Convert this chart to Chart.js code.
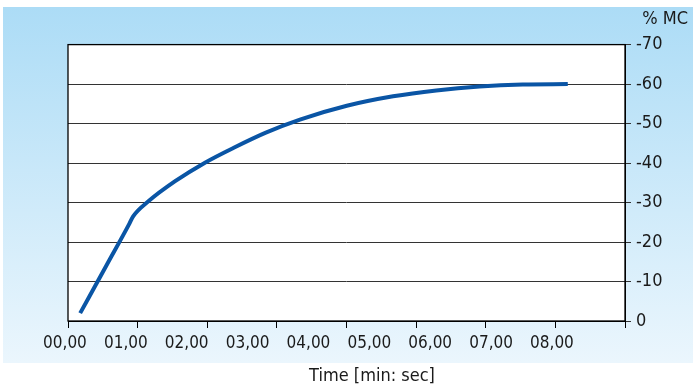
<!DOCTYPE html>
<html>
<head>
<meta charset="utf-8">
<title>Moisture curve</title>
<script src="https://cdn.jsdelivr.net/npm/chart.js@4.4.1/dist/chart.umd.min.js"></script>
<style>
    html, body { margin: 0; padding: 0; background: #fff; }
    canvas { display: block; }
</style>
</head>
<body>
<canvas id="myChart" width="693" height="385"></canvas>
<script>
// time in minutes (read against the x labels), moisture content in %
const timeMin = [0.25, 0.69, 1.05, 1.12, 1.37, 1.81, 2.30, 2.79, 3.30, 3.86, 4.63, 5.39, 6.10, 6.81, 7.52, 8.26];
const moisture = [-2.0, -14.3, -24.4, -26.5, -30.3, -35.4, -40.1, -44.0, -47.7, -51.0, -54.5, -56.9, -58.4, -59.4, -59.9, -60.0];

const xTickValues = [0, 1, 2, 3, 4, 5, 6, 7, 8];
const xTickLabels = ['00,00', '01,00', '02,00', '03,00', '04,00', '05,00', '06,00', '07,00', '08,00'];
const yUnit = '% MC';
const xTitle = 'Time [min: sec]';

const fontFamily = "'Liberation Sans Narrow', 'DejaVu Sans Condensed', 'Roboto', sans-serif";
const textColor = '#1a1a1a';

document.addEventListener("DOMContentLoaded", function() {
    const ctx = document.getElementById('myChart').getContext('2d');

    // blue backdrop, white plot area, frame and the bottom title
    const backdrop = {
        id: 'backdrop',
        beforeDraw(chart) {
            const c = chart.ctx;
            const a = chart.chartArea;
            c.save();
            const g = c.createLinearGradient(0, 7, 0, 363);
            g.addColorStop(0, '#acdcf6');
            g.addColorStop(1, '#ebf6fd');
            c.fillStyle = g;
            c.fillRect(3, 7, chart.width - 3, 356);
            c.fillStyle = '#fff';
            c.fillRect(a.left, a.top, a.right - a.left, a.bottom - a.top);
            c.restore();
        },
        afterDraw(chart) {
            const c = chart.ctx;
            const a = chart.chartArea;
            c.save();
            c.strokeStyle = '#000';
            c.lineWidth = 1.3;
            c.strokeRect(a.left, a.top, a.right - a.left, a.bottom - a.top);
            c.fillStyle = textColor;
            c.font = '18px ' + fontFamily;
            c.textAlign = 'center';
            c.textBaseline = 'middle';
            c.fillText(xTitle, 372, 376);
            c.restore();
        }
    };

    const data = {
        datasets: [{
            label: 'MC',
            data: timeMin.map((t, i) => ({ x: t, y: moisture[i] })),
            borderColor: '#0a55a5',
            borderWidth: 4,
            pointRadius: 0,
            fill: false,
            cubicInterpolationMode: 'monotone',
            xAxisID: 'x',
            yAxisID: 'y'
        }]
    };

    const config = {
        type: 'line',
        data: data,
        options: {
            responsive: false,
            animation: false,
            layout: {
                padding: { left: 68, right: 5, top: 0, bottom: 0 }
            },
            scales: {
                x: {
                    type: 'linear',
                    position: 'bottom',
                    weight: 1,
                    min: 0.05,
                    max: 9.2,
                    afterBuildTicks: (axis) => {
                        axis.ticks = xTickValues.map(v => ({ value: v }));
                    },
                    afterFit: (axis) => { axis.height = 57; },
                    ticks: {
                        autoSkip: false,
                        maxRotation: 0,
                        padding: -3,
                        color: textColor,
                        font: { family: fontFamily, size: 17 },
                        callback: (value, index) => xTickLabels[index]
                    },
                    grid: { display: false },
                    border: { display: false }
                },
                // tick marks only: the marks below the plot do not line up with the labels
                x2: {
                    type: 'linear',
                    position: 'bottom',
                    weight: 0,
                    min: 0,
                    max: 8,
                    afterFit: (axis) => { axis.height = 7; },
                    ticks: { stepSize: 1, display: false },
                    grid: {
                        drawOnChartArea: false,
                        color: '#000',
                        tickLength: 7
                    },
                    border: { display: true, color: '#000', width: 1 }
                },
                y: {
                    type: 'linear',
                    position: 'right',
                    min: -70,
                    max: 0,
                    reverse: true,
                    afterFit: (axis) => { axis.width = 63; },
                    ticks: {
                        stepSize: 10,
                        padding: 5,
                        color: textColor,
                        font: { family: fontFamily, size: 18 }
                    },
                    grid: {
                        color: '#333',
                        tickLength: 6
                    },
                    border: { display: true, color: '#000', width: 1 }
                }
            },
            plugins: {
                legend: { display: false },
                tooltip: { enabled: false },
                title: {
                    display: true,
                    text: yUnit,
                    align: 'end',
                    color: textColor,
                    font: { family: fontFamily, size: 18, weight: 'normal' },
                    padding: { top: 9, bottom: 14 }
                }
            }
        },
        plugins: [backdrop]
    };

    const myChart = new Chart(ctx, config);
});
</script>
</body>
</html>
